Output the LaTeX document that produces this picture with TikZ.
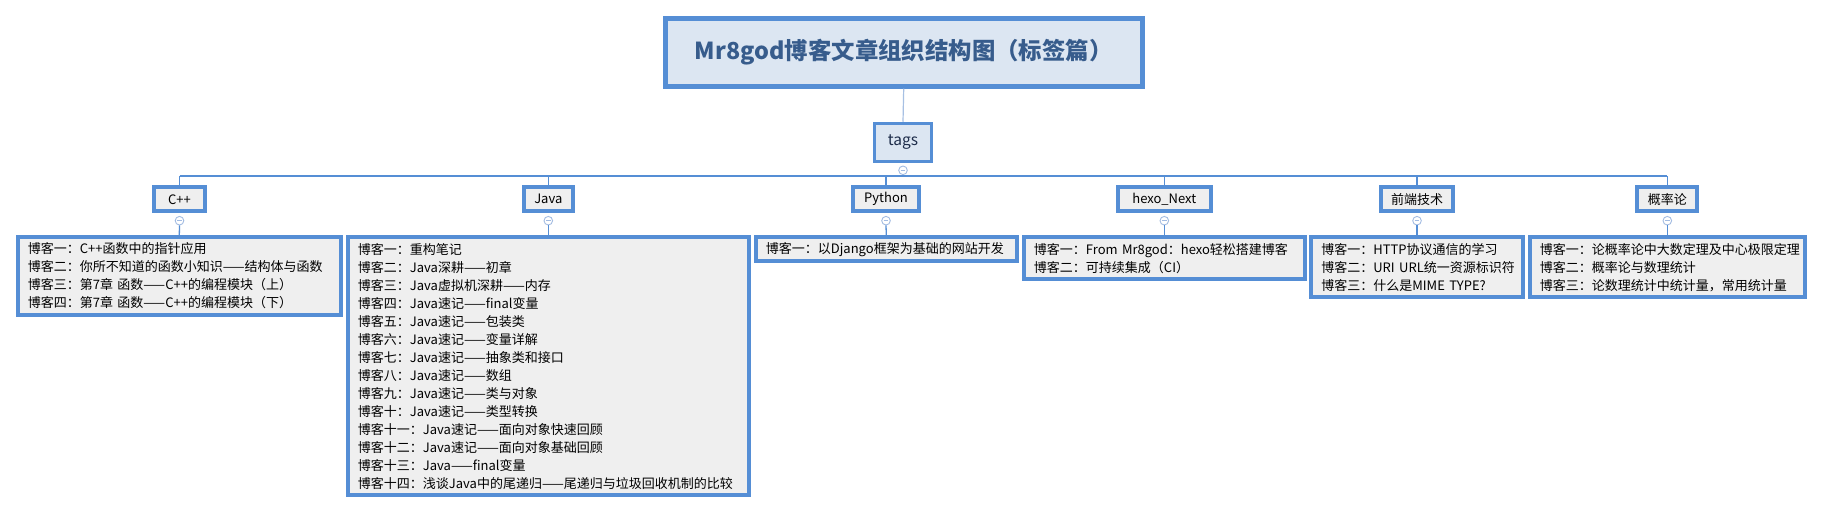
\documentclass[tikz,border=0pt]{standalone}
\usepackage{fontspec}
\setmainfont{Noto Sans CJK SC}
\usetikzlibrary{calc}
\definecolor{bordblue}{RGB}{85,142,213}
\definecolor{lightline}{RGB}{167,192,227}
\definecolor{titlefill}{RGB}{220,230,242}
\definecolor{leafgray}{RGB}{239,239,239}
\definecolor{titletext}{RGB}{55,92,140}
\definecolor{tagtext}{RGB}{30,45,75}
\definecolor{circblue}{RGB}{163,188,226}
\tikzset{
  titlebox/.style={draw=bordblue, line width=5pt, fill=titlefill, minimum width=477pt, minimum height=67.7pt, inner sep=0pt, text=titletext, font=\fontsize{23.4}{27}\selectfont\bfseries},
  tagbox/.style={draw=bordblue, line width=3.5pt, fill=titlefill, minimum width=57pt, minimum height=38pt, inner sep=0pt, text=tagtext, font=\fontsize{15.5}{18}\selectfont},
  childbox/.style={draw=bordblue, line width=4pt, fill=leafgray, minimum height=24pt, inner sep=0pt, font=\fontsize{13}{15}\selectfont},
  leafbox/.style={draw=bordblue, line width=4pt, fill=leafgray, align=left, inner xsep=10pt, inner ysep=0pt, font=\fontsize{13}{18}\selectfont},
  collapse/.style={circle, draw=circblue, fill=white, line width=0.9pt, minimum size=8.6pt, inner sep=0pt,
    path picture={\draw[circblue, line width=0.9pt] ([xshift=2pt]path picture bounding box.west) -- ([xshift=-2pt]path picture bounding box.east);}},
  conn/.style={draw=bordblue, line width=1.3pt},
  topconn/.style={draw=lightline, line width=1.2pt}
}
\begin{document}
\begin{tikzpicture}[x=1pt, y=-1pt]
\fill[white] (0,0) rectangle (1835,514);
\useasboundingbox (0,0) rectangle (1835,514);

% title and tags
\node[titlebox] (title) at (903.7,52.3) {Mr8god博客文章组织结构图（标签篇）};
\node[tagbox] (tags) at (903,142.5) {tags};
\node[collapse] (c0) at (903,170.3) {};

% children
\node[childbox, minimum width=50.4pt] (cpp) at (179.5,199.3) {C++};
\node[childbox, minimum width=48.7pt] (java) at (548.3,199.3) {Java};
\node[childbox, minimum width=66pt] (py) at (886,199.3) {Python};
\node[childbox, minimum width=92.7pt] (hexo) at (1164.3,199.3) {hexo\_Next};
\node[childbox, minimum width=72.7pt] (fe) at (1417,199.3) {前端技术};
\node[childbox, minimum width=60pt] (prob) at (1667.3,199.3) {概率论};

% bar coordinates
\coordinate (b1) at (179.5,176);
\coordinate (b2) at (548.3,176);
\coordinate (b3) at (886,176);
\coordinate (b4) at (1164.3,176);
\coordinate (b5) at (1417,176);
\coordinate (b6) at (1667.3,176);

% collapse circles below children
\node[collapse] (c1) at (179.5,220.7) {};
\node[collapse] (c2) at (548.3,220.7) {};
\node[collapse] (c3) at (886,220.7) {};
\node[collapse] (c4) at (1164.3,220.7) {};
\node[collapse] (c5) at (1417,220.7) {};
\node[collapse] (c6) at (1667.3,220.7) {};

% leaves
\node[leafbox, text width=302.7pt, minimum height=77.4pt] (lcpp) at (179.3,276) {博客一：C++函数中的指针应用\\博客二：你所不知道的函数小知识——结构体与函数\\博客三：第7章~函数——C++的编程模块（上）\\博客四：第7章~函数——C++的编程模块（下）};
\node[leafbox, text width=380.7pt, minimum height=258pt] (ljava) at (548.3,366.3) {博客一：重构笔记\\博客二：Java深耕——初章\\博客三：Java虚拟机深耕——内存\\博客四：Java速记——final变量\\博客五：Java速记——包装类\\博客六：Java速记——变量详解\\博客七：Java速记——抽象类和接口\\博客八：Java速记——数组\\博客九：Java速记——类与对象\\博客十：Java速记——类型转换\\博客十一：Java速记——面向对象快速回顾\\博客十二：Java速记——面向对象基础回顾\\博客十三：Java——final变量\\博客十四：浅谈Java中的尾递归——尾递归与垃圾回收机制的比较};
\node[leafbox, text width=240.7pt, minimum height=24pt] (lpy) at (886.3,249.3) {博客一：以Django框架为基础的网站开发};
\node[leafbox, text width=260.7pt, minimum height=42pt] (lhexo) at (1164.3,258.3) {博客一：From~Mr8god：hexo轻松搭建博客\\博客二：可持续集成（CI）};
\node[leafbox, text width=191.3pt, minimum height=60pt] (lfe) at (1417,267.3) {博客一：HTTP协议通信的学习\\博客二：URI~URL统一资源标识符\\博客三：什么是MIME~TYPE?};
\node[leafbox, text width=254.7pt, minimum height=60pt] (lprob) at (1667.3,267.3) {博客一：论概率论中大数定理及中心极限定理\\博客二：概率论与数理统计\\博客三：论数理统计中统计量，常用统计量};

% connectors
\draw[topconn] (title.south) -- (tags.north);
\draw[conn] (c0.south) -- (c0 |- b1);
\draw[conn] (b1) -- (b6);
\foreach \b/\ch in {b1/cpp, b2/java, b3/py, b4/hexo, b5/fe, b6/prob}
  \draw[conn] (\b) -- (\ch.north);
\foreach \ch/\c/\l in {cpp/c1/lcpp, java/c2/ljava, py/c3/lpy, hexo/c4/lhexo, fe/c5/lfe, prob/c6/lprob}{
  \draw[conn] (\c.south) -- (\l.north);
}
\end{tikzpicture}
\end{document}
